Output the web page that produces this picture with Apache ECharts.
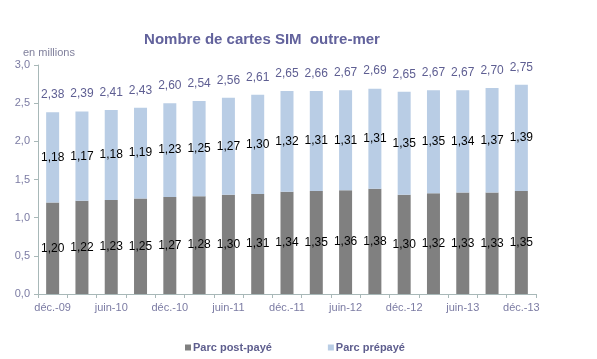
<!DOCTYPE html>
<html><head><meta charset="utf-8">
<script src="https://cdn.jsdelivr.net/npm/echarts@6/dist/echarts.min.js"></script>
<style>html,body{margin:0;padding:0;background:#fff}#c{width:597px;height:359px}</style>
</head><body><div id="c"></div>
<script>
var categories = ['déc.-09','mars-10','juin-10','sept.-10','déc.-10','mars-11','juin-11','sept.-11','déc.-11','mars-12','juin-12','sept.-12','déc.-12','mars-13','juin-13','sept.-13','déc.-13'];
var postPaye = [1.20,1.22,1.23,1.25,1.27,1.28,1.30,1.31,1.34,1.35,1.36,1.38,1.30,1.32,1.33,1.33,1.35];
var prePaye  = [1.18,1.17,1.18,1.19,1.23,1.25,1.27,1.30,1.32,1.31,1.31,1.31,1.35,1.35,1.34,1.37,1.39];
var totals   = [2.38,2.39,2.41,2.43,2.60,2.54,2.56,2.61,2.65,2.66,2.67,2.69,2.65,2.67,2.67,2.70,2.75];
var yTicks   = [0,0.5,1,1.5,2,2.5,3];

function fr(v, d){ return v.toFixed(d).replace('.', ','); }
var stackTop = postPaye.map(function(v,i){ return +(v + prePaye[i]).toFixed(2); });

var chart = echarts.init(document.getElementById('c'), null, {renderer:'canvas'});
var axisColor = '#7b7ba3';
chart.setOption({
  animation:false,
  textStyle:{fontFamily:'Liberation Sans, Arial, sans-serif'},
  title:[{
    text:'Nombre de cartes SIM  outre-mer',
    left:257, top:27, textAlign:'center',
    textStyle:{fontSize:15, fontWeight:'bold', color:'#62629c', fontFamily:'Liberation Sans, Arial, sans-serif'}
  },{
    text:'en millions', left:18, top:42,
    textStyle:{fontSize:11, fontWeight:'normal', color:'#80809c', fontFamily:'Liberation Sans, Arial, sans-serif'}
  }],
  legend:{
    data:['Parc post-payé','Parc prépayé'],
    left:180, top:337, itemWidth:6, itemHeight:6, itemGap:56,
    icon:'rect',
    textStyle:{fontSize:11, fontWeight:'bold', color:'#5e5e8e', padding:[0,0,0,-3]}
  },
  grid:{left:38, right:61, top:65, bottom:65},
  xAxis:{
    type:'category', data:categories,
    axisLine:{lineStyle:{color:'#a8b8b8'}},
    axisTick:{show:true, alignWithLabel:false, interval:0, length:4, lineStyle:{color:'#a8b8b8'}},
    axisLabel:{interval:1, color:axisColor, fontSize:11, margin:8}
  },
  yAxis:{
    type:'value', min:0, max:3, interval:0.5,
    axisLine:{show:true, lineStyle:{color:'#a8b8b8'}},
    axisTick:{show:true, length:4, lineStyle:{color:'#a8b8b8'}},
    splitLine:{show:false},
    axisLabel:{color:axisColor, fontSize:11, margin:8, formatter:function(v){ return fr(v,1); }}
  },
  series:[{
    name:'Parc post-payé', type:'bar', stack:'t', data:postPaye, barWidth:13,
    itemStyle:{color:'#808080'},
    label:{show:true, position:'inside', color:'#000', fontSize:12, formatter:function(p){ return fr(p.value,2); }}
  },{
    name:'Parc prépayé', type:'bar', stack:'t', data:prePaye, barWidth:13,
    itemStyle:{color:'#b9cde5'},
    label:{show:true, position:'inside', color:'#000', fontSize:12, formatter:function(p){ return fr(p.value,2); }}
  },{
    name:'Total', type:'line', data:stackTop, symbol:'circle', symbolSize:1,
    itemStyle:{color:'rgba(0,0,0,0)'}, lineStyle:{opacity:0}, silent:true,
    label:{show:true, position:'top', distance:11, color:'#5e5e92', fontSize:12,
      formatter:function(p){ return fr(totals[p.dataIndex],2); }}
  }]
});
</script></body></html>
